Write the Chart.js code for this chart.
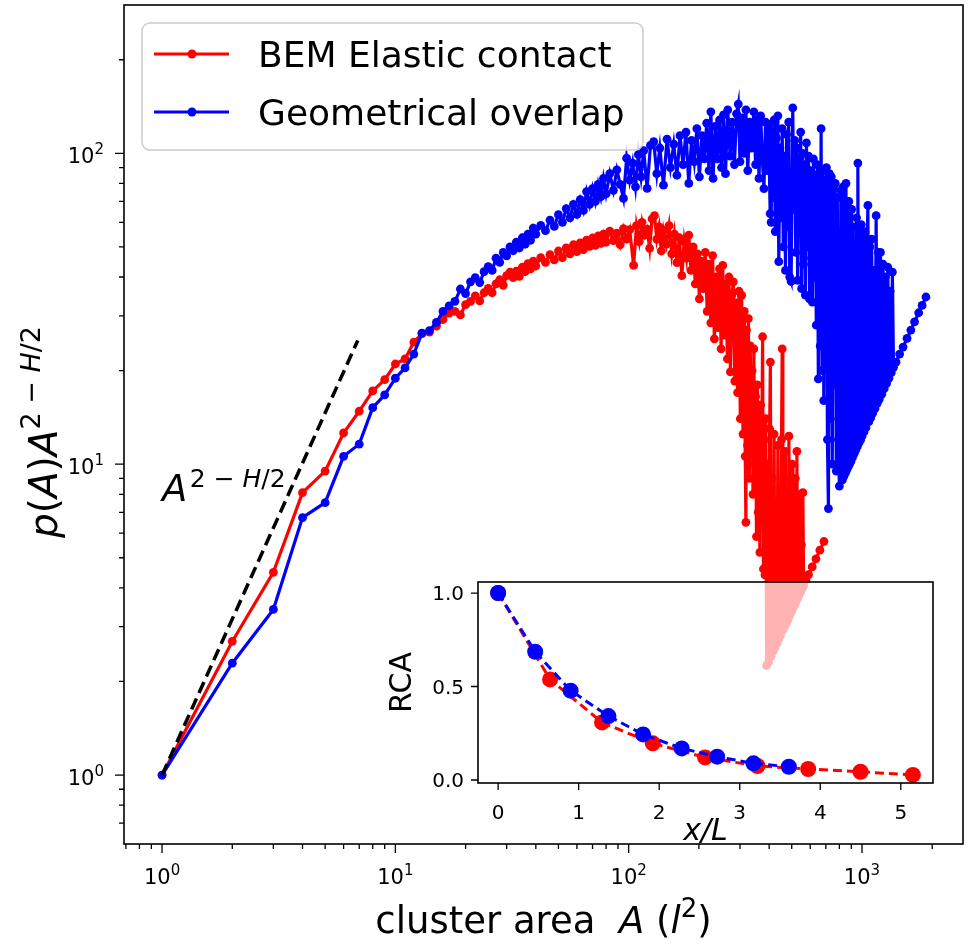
<!DOCTYPE html>
<html>
<head>
<meta charset="utf-8">
<script src="https://cdn.jsdelivr.net/npm/chart.js@4.4.1/dist/chart.umd.min.js"></script>
<style>
  html, body { margin: 0; padding: 0; background: #fff; }
  #wrap { position: relative; width: 968px; height: 946px; }
  #main { position: absolute; left: 0; top: 0; }
  #inset { position: absolute; left: 380px; top: 570px; }
</style>
</head>
<body>
<div id="wrap">
  <canvas id="main" width="968" height="946"></canvas>
  <canvas id="inset" width="570" height="280"></canvas>
</div>
<script>
// ---- main plot data: cluster area A and p(A) A^(2-H/2) ----
const bemArea = [
  1, 2, 3, 4, 5, 6, 7, 8, 9, 10,
  11, 12, 13, 14, 15, 16, 17, 18, 19, 20,
  21, 22, 23, 24, 25, 26, 27, 28, 29, 30,
  31, 32, 33, 34, 35, 36, 37, 38, 39, 40,
  42, 44, 46, 48, 50, 52, 54, 56, 58, 60,
  62, 64, 66, 68, 70, 72, 74, 76, 78, 80,
  83, 86, 89, 92, 95, 98, 101, 105, 108, 111,
  114, 117, 120, 123, 126, 129, 132, 135, 138, 141,
  145, 149, 153, 157, 161, 165, 169, 173, 177, 181,
  185, 189, 193, 197, 201, 205, 209, 213, 217, 221,
  225, 229, 233, 237, 241, 245, 249, 253, 257, 261,
  265, 269, 273, 277, 281, 285, 289, 293, 297, 301,
  305, 309, 313, 316, 318, 320, 323, 326, 329, 332,
  335, 338, 341, 344, 347, 350, 353, 356, 359, 362,
  365, 368, 371, 375, 378, 381, 384, 387, 390, 394,
  398, 402, 405, 408, 412, 416, 420, 424, 428, 432,
  436, 440, 444, 448, 452, 455, 458, 462, 466, 470,
  474, 478, 482, 486, 490, 494, 498, 502, 506, 510,
  514, 518, 522, 526, 530, 534, 538, 542, 546, 550,
  554, 558, 562, 575, 590, 612, 635, 660, 687
];
const bemValue = [
  1.0, 2.69, 4.49, 8.1, 9.5, 12.6, 14.8, 17.2, 18.7, 21.0,
  21.8, 24.7, 26.3, 26.6, 27.8, 29.2, 30.6, 31.0, 30.2, 32.6,
  33.4, 34.8, 33.5, 35.6, 36.8, 35.6, 38.0, 39.2, 37.6, 40.4,
  41.5, 39.8, 41.8, 40.2, 43.0, 41.6, 44.2, 42.5, 45.0, 43.4,
  46.2, 44.6, 47.2, 45.4, 48.5, 46.2, 49.6, 47.5, 50.8, 48.3,
  51.5, 49.0, 52.6, 50.2, 53.4, 50.6, 54.2, 51.3, 55.0, 51.8,
  56.2, 52.4, 55.4, 50.8, 57.2, 53.0, 56.8, 43.6, 58.5, 52.0,
  60.0, 54.5, 57.0, 49.5, 61.5, 63.0, 53.0, 58.0, 48.5, 56.5,
  51.0, 58.5, 47.5, 55.0, 44.5, 53.5, 40.4, 52.0, 46.0, 54.5,
  42.0, 50.0, 38.0, 47.5, 34.0, 45.0, 36.7, 48.0, 31.0, 44.0,
  28.5, 46.9, 25.3, 40.0, 27.5, 42.5, 23.5, 43.6, 26.0, 38.0,
  21.8, 40.0, 19.8, 35.0, 38.6, 18.5, 33.0, 17.0, 36.0, 14.0,
  34.9, 12.5, 31.0, 10.6, 6.5, 27.0, 11.5, 29.4, 9.0, 24.0,
  12.5, 20.0, 8.0, 23.5, 10.0, 16.5, 5.85, 18.0, 7.0, 14.0,
  5.2, 15.5, 8.0, 25.7, 4.6, 12.0, 4.4, 14.0, 2.25, 10.0,
  2.31, 13.0, 21.3, 2.41, 9.0, 2.5, 12.5, 2.57, 7.0, 2.65,
  11.5, 2.74, 6.0, 2.82, 12.0, 23.5, 2.93, 9.0, 3.0, 11.0,
  3.08, 6.5, 3.17, 12.3, 3.26, 8.0, 3.35, 10.0, 3.44, 6.0,
  3.52, 9.0, 3.61, 11.0, 3.70, 6.5, 3.8, 8.0, 3.88, 5.5,
  3.97, 8.1, 4.06, 4.25, 4.41, 4.67, 4.96, 5.29, 5.64
];
const geoArea = [
  1, 2, 3, 4, 5, 6, 7, 8, 9, 10,
  11, 12, 13, 14, 15, 16, 17, 18, 19, 20,
  21, 22, 23, 24, 25, 26, 27, 28, 29, 30,
  31, 32, 33, 34, 35, 36, 37, 38, 39, 40,
  42, 44, 46, 48, 50, 52, 54, 56, 58, 60,
  62, 64, 66, 68, 70, 72, 74, 76, 78, 80,
  83, 86, 89, 92, 95, 98, 101, 104, 107, 110,
  113, 116, 120, 124, 128, 132, 136, 141, 146, 151,
  156, 161, 166, 171, 176, 181, 186, 191, 196, 201,
  206, 211, 216, 221, 225, 230, 235, 240, 245, 250,
  255, 260, 266, 272, 278, 284, 290, 295, 300, 306,
  312, 318, 324, 330, 336, 344, 350, 356, 362, 368,
  374, 380, 386, 392, 398, 404, 408, 412, 416, 420,
  425, 430, 436, 440, 445, 450, 455, 460, 465, 470,
  475, 480, 485, 490, 497, 505, 510, 515, 520, 525,
  530, 536, 541, 546, 551, 556, 561, 567, 572, 578,
  584, 590, 596, 602, 608, 613, 619, 625, 631, 637,
  643, 650, 656, 662, 668, 674, 680, 686, 692, 698,
  704, 711, 718, 725, 732, 739, 746, 753, 760, 768,
  776, 784, 792, 800, 812, 824, 830, 836, 842, 848,
  854, 860, 866, 872, 878, 884, 890, 896, 903, 910,
  917, 925, 932, 940, 948, 955, 960, 970, 978, 985,
  993, 1000, 1010, 1020, 1030, 1040, 1050, 1060, 1070, 1080,
  1090, 1100, 1112, 1125, 1137, 1150, 1162, 1175, 1187, 1200,
  1215, 1230, 1245, 1260, 1275, 1290, 1305, 1320, 1335, 1350,
  1365, 1400, 1450, 1500, 1560, 1620, 1680, 1750, 1810, 1880
];
const geoValue = [
  1.0, 2.29, 3.41, 6.73, 7.52, 10.6, 11.6, 15.2, 16.7, 18.9,
  20.4, 22.6, 26.4, 26.9, 28.6, 31.0, 32.3, 33.4, 36.6, 35.4,
  38.6, 39.8, 38.4, 41.6, 43.2, 42.0, 46.0, 44.6, 48.0, 46.8,
  50.0, 48.6, 51.8, 49.6, 53.5, 51.0, 55.0, 52.6, 57.5, 55.0,
  58.6, 56.4, 61.0, 58.2, 63.5, 60.0, 66.4, 62.0, 68.5, 63.6,
  71.0, 65.5, 75.3, 68.5, 77.0, 70.0, 79.5, 72.5, 83.0, 74.0,
  86.0, 76.0, 88.5, 79.5, 71.6, 96.5, 82.0, 93.0, 78.0, 99.0,
  84.0, 102.0, 77.1, 106.0, 109.0, 86.0, 104.0, 79.0, 111.0, 90.0,
  107.0, 85.0, 114.0, 92.0, 117.0, 80.0, 110.0, 94.0, 120.0, 84.0,
  114.0, 96.0, 125.0, 88.0, 136.0, 83.0, 122.0, 96.0, 128.0, 90.0,
  133.0, 86.0, 138.0, 98.0, 126.0, 92.0, 134.0, 144.0, 94.0, 130.0,
  100.0, 138.0, 88.0, 126.0, 104.0, 136.0, 92.0, 128.0, 83.0, 132.0,
  96.0, 77.0, 126.0, 88.0, 124.0, 64.0, 60.0, 118.0, 72.0, 128.0,
  56.0, 112.0, 132.0, 44.8, 104.0, 62.0, 120.0, 50.0, 98.0, 42.0,
  115.0, 58.0, 126.0, 40.0, 38.7, 140.0, 66.0, 110.0, 48.0, 104.0,
  39.0, 96.0, 56.0, 117.0, 36.7, 100.0, 44.0, 92.0, 35.0, 108.0,
  50.0, 98.0, 34.0, 88.0, 46.0, 33.2, 96.0, 40.0, 85.0, 28.0,
  92.0, 18.8, 86.0, 24.0, 120.0, 20.0, 88.0, 16.0, 82.0, 22.0,
  90.0, 12.0, 7.2, 86.0, 14.0, 84.0, 10.0, 78.0, 18.0, 80.0,
  9.5, 72.0, 12.0, 8.5, 76.0, 8.9, 78.0, 9.14, 62.0, 9.35,
  80.0, 9.57, 50.0, 9.79, 70.0, 10.0, 45.0, 10.2, 66.0, 10.5,
  58.0, 10.8, 40.0, 11.1, 62.0, 11.4, 93.0, 11.7, 52.0, 11.95,
  59.0, 12.3, 36.0, 12.7, 56.0, 13.1, 46.0, 68.0, 13.7, 50.0,
  14.1, 53.0, 14.6, 42.0, 15.1, 63.0, 15.7, 48.0, 16.2, 48.0,
  16.8, 44.0, 17.5, 40.0, 18.2, 43.0, 18.9, 36.0, 19.7, 41.5,
  20.5, 21.3, 22.6, 23.8, 25.4, 27.0, 28.7, 30.7, 32.4, 34.5
];
// dashed guide A^(2-H/2)
const guideArea = [1, 6.9];
const guideValue = [1, 25];

// ---- inset: RCA against x/L ----
const bemDist = [0, 0.645, 1.29, 1.92, 2.57, 3.22, 3.85, 4.5, 5.15];
const bemRCA = [1.0, 0.538, 0.308, 0.196, 0.121, 0.075, 0.059, 0.044, 0.027];
const geoDist = [0, 0.46, 0.9, 1.37, 1.8, 2.28, 2.72, 3.17, 3.61];
const geoRCA = [1.0, 0.686, 0.478, 0.342, 0.244, 0.169, 0.125, 0.089, 0.071];

// ticks
const xMajor = [1, 10, 100, 1000];
const xExp = ['0', '1', '2', '3'];
const xMinor = [0.7, 0.8, 0.9, 2, 3, 4, 5, 6, 7, 8, 9, 20, 30, 40, 50, 60, 70, 80, 90,
  200, 300, 400, 500, 600, 700, 800, 900, 2000];
const yMajor = [1, 10, 100];
const yExp = ['0', '1', '2'];
const yMinor = [0.7, 0.8, 0.9, 2, 3, 4, 5, 6, 7, 8, 9, 20, 30, 40, 50, 60, 70, 80, 90, 200];
const insetXTicks = [0, 1, 2, 3, 4, 5];
const insetYTicks = [0, 0.5, 1.0];
const insetYLabels = ['0.0', '0.5', '1.0'];

const FAM = '"DejaVu Sans"';
const font = (size, italic) => (italic ? 'italic ' : '') + size + 'px ' + FAM;
const toPoints = (xs, ys) => xs.map((x, i) => ({ x: x, y: ys[i] }));

// draw a run of text pieces (for super-scripts / italics)
function drawParts(ctx, parts, x, y, align) {
  let w = 0;
  parts.forEach(p => { ctx.font = p.f; p.w = ctx.measureText(p.t).width; w += p.w; });
  let cx = align === 'center' ? x - w / 2 : align === 'right' ? x - w : x;
  ctx.textAlign = 'left';
  ctx.textBaseline = 'alphabetic';
  parts.forEach(p => { ctx.font = p.f; ctx.fillText(p.t, cx, y + (p.dy || 0)); cx += p.w; });
}

const mainDecor = {
  id: 'mainDecor',
  afterDraw(chart) {
    const { ctx, chartArea: a, scales: { x, y } } = chart;
    ctx.save();
    ctx.fillStyle = '#000';
    ctx.strokeStyle = '#000';

    // frame
    ctx.lineWidth = 1.6;
    ctx.strokeRect(a.left, a.top, a.right - a.left, a.bottom - a.top);

    // x ticks
    ctx.lineWidth = 1.3;
    ctx.beginPath();
    xMinor.forEach(v => {
      const px = x.getPixelForValue(v);
      ctx.moveTo(px, a.bottom); ctx.lineTo(px, a.bottom + 5);
    });
    xMajor.forEach(v => {
      const px = x.getPixelForValue(v);
      ctx.moveTo(px, a.bottom); ctx.lineTo(px, a.bottom + 9);
    });
    // y ticks
    yMinor.forEach(v => {
      const py = y.getPixelForValue(v);
      ctx.moveTo(a.left, py); ctx.lineTo(a.left - 5, py);
    });
    yMajor.forEach(v => {
      const py = y.getPixelForValue(v);
      ctx.moveTo(a.left, py); ctx.lineTo(a.left - 9, py);
    });
    ctx.stroke();

    xMajor.forEach((v, i) => {
      drawParts(ctx, [{ t: '10', f: font(21) }, { t: xExp[i], f: font(15), dy: -9 }],
        x.getPixelForValue(v), a.bottom + 40, 'center');
    });
    yMajor.forEach((v, i) => {
      drawParts(ctx, [{ t: '10', f: font(21) }, { t: yExp[i], f: font(15), dy: -9 }],
        a.left - 20, y.getPixelForValue(v) + 10, 'right');
    });

    // axis titles
    drawParts(ctx, [
      { t: 'cluster area  ', f: font(37) },
      { t: 'A', f: font(37, true) },
      { t: ' (', f: font(37) },
      { t: 'l', f: font(37, true) },
      { t: '2', f: font(26), dy: -16 },
      { t: ')', f: font(37) }
    ], (a.left + a.right) / 2, 933, 'center');

    ctx.save();
    ctx.translate(57, 432);
    ctx.rotate(-Math.PI / 2);
    drawParts(ctx, [
      { t: 'p', f: font(39, true) },
      { t: '(', f: font(39) },
      { t: 'A', f: font(39, true) },
      { t: ')', f: font(39) },
      { t: 'A', f: font(39, true) },
      { t: '2 \u2212 ', f: font(27), dy: -17 },
      { t: 'H', f: font(27, true), dy: -17 },
      { t: '/2', f: font(27), dy: -17 }
    ], 0, 0, 'center');
    ctx.restore();

    // annotation of the guide slope
    drawParts(ctx, [
      { t: 'A', f: font(37, true) },
      { t: '\u200a2 \u2212 ', f: font(25), dy: -14 },
      { t: 'H', f: font(25, true), dy: -14 },
      { t: '/2', f: font(25), dy: -14 }
    ], 162, 501, 'left');

    // legend
    const lx = 142, ly = 23, lw = 501, lh = 127, r = 8;
    ctx.beginPath();
    ctx.moveTo(lx + r, ly);
    ctx.arcTo(lx + lw, ly, lx + lw, ly + lh, r);
    ctx.arcTo(lx + lw, ly + lh, lx, ly + lh, r);
    ctx.arcTo(lx, ly + lh, lx, ly, r);
    ctx.arcTo(lx, ly, lx + lw, ly, r);
    ctx.closePath();
    ctx.fillStyle = 'rgba(255,255,255,0.8)';
    ctx.fill();
    ctx.strokeStyle = '#cccccc';
    ctx.lineWidth = 1.5;
    ctx.stroke();

    const items = [
      { label: 'BEM Elastic contact', color: '#ff0000', y: 54 },
      { label: 'Geometrical overlap', color: '#0000ff', y: 112 }
    ];
    items.forEach(it => {
      ctx.strokeStyle = it.color;
      ctx.lineWidth = 3;
      ctx.beginPath();
      ctx.moveTo(154, it.y); ctx.lineTo(229, it.y);
      ctx.stroke();
      ctx.fillStyle = it.color;
      ctx.beginPath();
      ctx.arc(192, it.y, 4.5, 0, Math.PI * 2);
      ctx.fill();
      ctx.fillStyle = '#000';
      drawParts(ctx, [{ t: it.label, f: font(36) }], 258, it.y + 13, 'left');
    });
    ctx.restore();
  }
};

new Chart(document.getElementById('main'), {
  type: 'line',
  data: {
    datasets: [
      {
        label: 'BEM Elastic contact',
        data: toPoints(bemArea, bemValue),
        borderColor: '#ff0000',
        backgroundColor: '#ff0000',
        borderWidth: 3.2,
        pointRadius: 4.4,
        pointBorderWidth: 0,
        tension: 0,
        order: 2
      },
      {
        label: 'Geometrical overlap',
        data: toPoints(geoArea, geoValue),
        borderColor: '#0000ff',
        backgroundColor: '#0000ff',
        borderWidth: 3.2,
        pointRadius: 4.4,
        pointBorderWidth: 0,
        tension: 0,
        order: 1
      },
      {
        label: 'guide',
        data: toPoints(guideArea, guideValue),
        borderColor: '#000000',
        borderWidth: 3.5,
        borderDash: [12, 6],
        pointRadius: 0,
        tension: 0,
        order: 0
      }
    ]
  },
  options: {
    responsive: false,
    animation: false,
    events: [],
    layout: { padding: { left: 124, right: 5, top: 5, bottom: 102 } },
    plugins: { legend: { display: false }, tooltip: { enabled: false } },
    scales: {
      x: { type: 'logarithmic', min: 0.687, max: 2710, display: false },
      y: { type: 'logarithmic', min: 0.6, max: 300, display: false }
    }
  },
  plugins: [mainDecor]
});

const insetDecor = {
  id: 'insetDecor',
  beforeDraw(chart) {
    const { ctx, chartArea: a } = chart;
    ctx.save();
    ctx.fillStyle = 'rgba(255,255,255,0.7)';
    ctx.fillRect(a.left, a.top, a.right - a.left, a.bottom - a.top);
    ctx.restore();
  },
  afterDraw(chart) {
    const { ctx, chartArea: a, scales: { x, y } } = chart;
    ctx.save();
    ctx.strokeStyle = '#000';
    ctx.fillStyle = '#000';
    ctx.lineWidth = 1.6;
    ctx.strokeRect(a.left, a.top, a.right - a.left, a.bottom - a.top);
    ctx.lineWidth = 1.3;
    ctx.beginPath();
    insetXTicks.forEach(v => {
      const px = x.getPixelForValue(v);
      ctx.moveTo(px, a.bottom); ctx.lineTo(px, a.bottom + 7);
    });
    insetYTicks.forEach(v => {
      const py = y.getPixelForValue(v);
      ctx.moveTo(a.left, py); ctx.lineTo(a.left - 7, py);
    });
    ctx.stroke();
    insetXTicks.forEach(v => {
      drawParts(ctx, [{ t: String(v), f: font(20) }], x.getPixelForValue(v), a.bottom + 36, 'center');
    });
    insetYTicks.forEach((v, i) => {
      drawParts(ctx, [{ t: insetYLabels[i], f: font(20) }], a.left - 14, y.getPixelForValue(v) + 7, 'right');
    });
    drawParts(ctx, [{ t: 'x/L', f: font(30, true) }], (a.left + a.right) / 2, 270, 'center');
    ctx.save();
    ctx.translate(31, (a.top + a.bottom) / 2);
    ctx.rotate(-Math.PI / 2);
    drawParts(ctx, [{ t: 'RCA', f: font(30) }], 0, 0, 'center');
    ctx.restore();
    ctx.restore();
  }
};

new Chart(document.getElementById('inset'), {
  type: 'line',
  data: {
    datasets: [
      {
        label: 'BEM',
        data: toPoints(bemDist, bemRCA),
        borderColor: '#ff0000',
        backgroundColor: '#ff0000',
        borderWidth: 3,
        borderDash: [9, 5],
        pointRadius: 8,
        pointBorderWidth: 0,
        tension: 0,
        order: 2
      },
      {
        label: 'Geo',
        data: toPoints(geoDist, geoRCA),
        borderColor: '#0000ff',
        backgroundColor: '#0000ff',
        borderWidth: 3,
        borderDash: [9, 5],
        pointRadius: 8,
        pointBorderWidth: 0,
        tension: 0,
        order: 1
      }
    ]
  },
  options: {
    responsive: false,
    animation: false,
    events: [],
    layout: { padding: { left: 98, right: 17, top: 12, bottom: 67 } },
    plugins: { legend: { display: false }, tooltip: { enabled: false } },
    scales: {
      x: { type: 'linear', min: -0.25, max: 5.4, display: false },
      y: { type: 'linear', min: -0.016, max: 1.059, display: false }
    }
  },
  plugins: [insetDecor]
});
</script>
</body>
</html>
